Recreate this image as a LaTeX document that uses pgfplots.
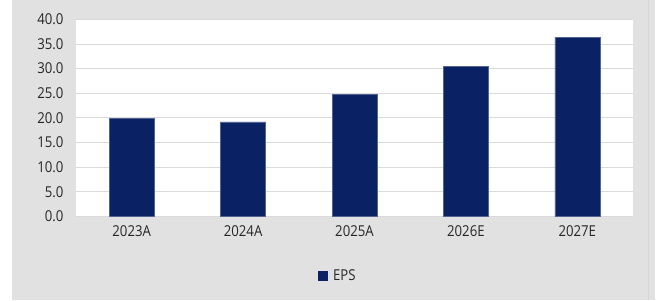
\documentclass[border=0pt]{standalone}
\usepackage{pgfplots}
\pgfplotsset{compat=1.18}
\usepackage{fontspec}
\setmainfont[FakeStretch=0.88]{Open Sans}
\definecolor{bg}{HTML}{E1E1E1}
\definecolor{barc}{HTML}{0A2264}
\definecolor{gridc}{HTML}{DADADA}
\definecolor{txt}{HTML}{262626}
\definecolor{edge}{HTML}{D6D6D6}
\begin{document}
\begin{tikzpicture}[x=1pt,y=1pt]
\fill[white] (0,0) rectangle (659,300);
\fill[bg] (12,0) rectangle (655,300);
\draw[line width=0.8pt, color=edge] (648.5,0) -- (648.5,300);
\begin{axis}[
  at={(76pt,84pt)}, anchor=south west,
  scale only axis, width=557pt, height=197pt,
  xmin=-0.5, xmax=4.5, ymin=0, ymax=40,
  axis background/.style={fill=white},
  axis line style={draw=none},
  major tick length=0pt,
  ytick={0,5,...,40},
  ymajorgrids, grid style={gridc, line width=1pt},
  xtick={0,1,2,3,4},
  xticklabels={2023A,2024A,2025A,2026E,2027E},
  yticklabel={\pgfmathprintnumber[fixed,fixed zerofill,precision=1]{\tick}},
  /pgf/number format/assume math mode=true,
  tick label style={font=\fontsize{15}{17}\selectfont, text=txt},
  y tick label style={xshift=-9pt},
  x tick label style={yshift=-6pt},
  legend style={at={(0.47,-0.30)}, anchor=center, draw=none, fill=none,
    font=\fontsize{15}{17}\selectfont, text=txt},
  legend image code/.code={\path[fill=barc, draw=none] (0pt,-5pt) rectangle (10pt,5pt); \path[draw=none, fill=none] (0pt,0pt) -- (13pt,0pt);},
]
\addplot[ybar, bar width=45pt, fill=barc, draw=barc!70!white, line width=0.4pt]
  coordinates {(0,19.9) (1,19.2) (2,24.8) (3,30.5) (4,36.4)};
\addlegendentry{EPS}
\end{axis}
\end{tikzpicture}
\end{document}
